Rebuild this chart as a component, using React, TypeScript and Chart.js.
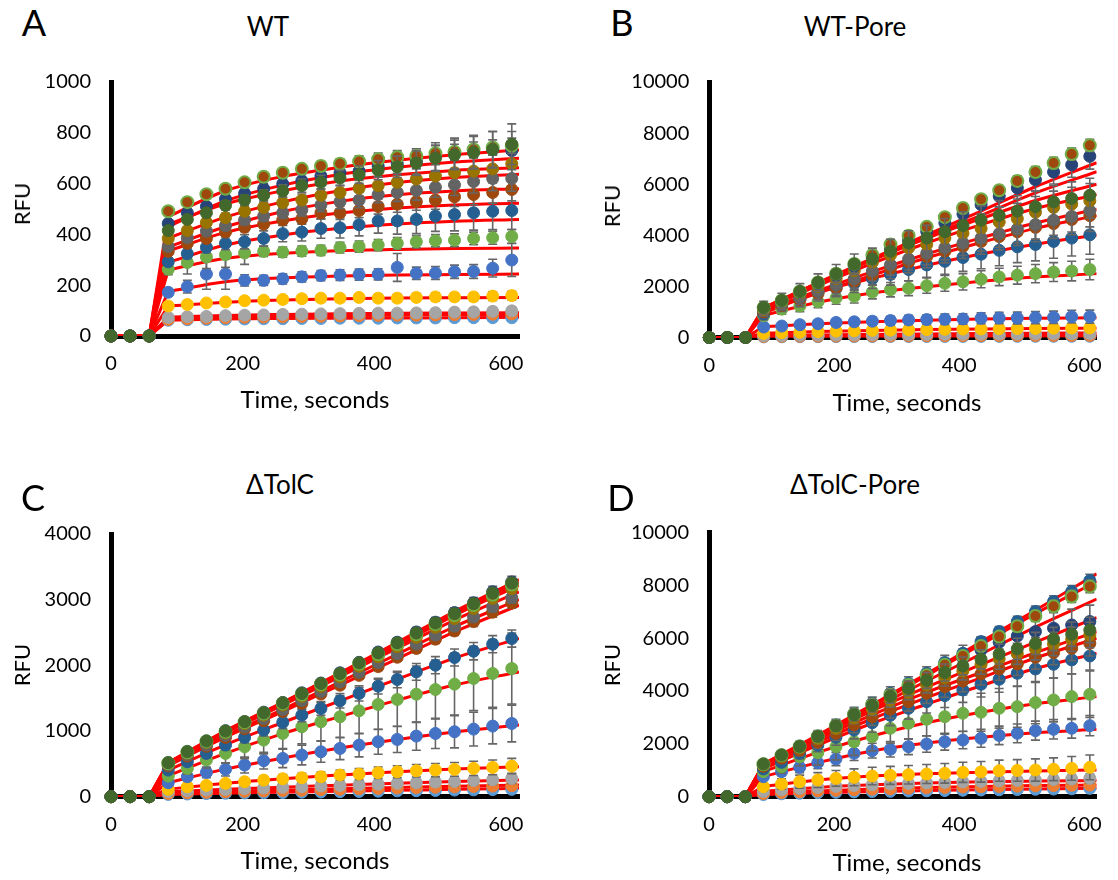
import React, { useEffect, useRef } from "react";
import { Chart, registerables } from "chart.js";
Chart.register(...registerables);

const FONT = "Lato, 'Open Sans', 'DejaVu Sans', sans-serif";

// ---------------- shared axes / times ----------------
const TIMES = [0, 29, 58, 87, 116, 145, 174, 203, 232, 261, 290, 319, 348, 377, 406, 435, 464, 493, 522, 551, 580, 609];
const BASELINE = [0, 0, 0];
const RAMP_TIMES = [0, 58];
const RAMP_BASE = [0, 0];
const FIT_TIMES = [87, 174, 261, 348, 435, 522, 620];
const X_TICKS = [0, 200, 400, 600];
const Y_TICKS_A = [0, 200, 400, 600, 800, 1000];
const Y_TICKS_B = [0, 2000, 4000, 6000, 8000, 10000];
const Y_TICKS_C = [0, 1000, 2000, 3000, 4000];
const Y_TICKS_D = [0, 2000, 4000, 6000, 8000, 10000];

const COLORS = ["#5B9BD5", "#ED7D31", "#A5A5A5", "#FFC000", "#4472C4", "#70AD47", "#255E91", "#9E480E", "#636363", "#997300", "#264478", "#43682B", "#9E480E"];
const COLORS_D = ["#5B9BD5", "#ED7D31", "#A5A5A5", "#FFC000", "#4472C4", "#70AD47", "#255E91", "#9E480E", "#264478", "#997300", "#255E91", "#43682B", "#9E480E"];
const EDGE_13 = "#70AD47";
const DRAW_RANK = [12, 11, 10, 9, 8, 7, 6, 5, 4, 3, 2, 0, 1];

// ---------------- Panel A (WT) ----------------
const A_MEANS = [
  [62, 64, 65, 66, 67, 68, 68, 69, 69, 70, 70, 70, 71, 71, 71, 72, 72, 72, 72],
  [65, 68, 70, 72, 74, 75, 76, 77, 78, 79, 80, 81, 82, 82, 83, 84, 85, 86, 87],
  [73, 76, 77, 80, 82, 83, 85, 86, 87, 88, 89, 90, 90, 91, 92, 94, 95, 97, 99],
  [118, 124, 130, 134, 139, 141, 144, 147, 149, 149, 152, 149, 149, 152, 154, 154, 154, 157, 159],
  [172, 194, 244, 244, 219, 219, 225, 233, 238, 240, 242, 243, 270, 247, 248, 253, 254, 267, 299],
  [263, 289, 311, 320, 327, 333, 330, 334, 337, 348, 352, 358, 365, 371, 375, 377, 384, 387, 392],
  [292, 324, 349, 365, 371, 384, 403, 409, 423, 426, 438, 453, 453, 459, 472, 478, 485, 491, 494],
  [333, 365, 384, 409, 428, 441, 457, 462, 485, 485, 494, 510, 519, 529, 535, 548, 557, 565, 577],
  [352, 387, 413, 434, 457, 472, 485, 497, 516, 529, 535, 557, 565, 573, 586, 595, 608, 620, 620],
  [384, 415, 447, 466, 491, 506, 525, 535, 554, 565, 582, 592, 605, 618, 630, 643, 649, 658, 678],
  [443, 485, 510, 539, 561, 580, 599, 611, 630, 643, 649, 668, 678, 687, 706, 719, 725, 734, 730],
  [415, 459, 485, 514, 535, 554, 571, 592, 605, 622, 635, 653, 666, 681, 700, 713, 722, 734, 755],
  [491, 527, 558, 580, 605, 627, 643, 658, 669, 678, 687, 696, 704, 709, 719, 725, 734, 742, 749],
];
const A_ERRS = [
  [5, 5, 5, 6, 6, 6, 6, 6, 7, 7, 7, 7, 7, 8, 8, 8, 8, 8, 8],
  [6, 6, 6, 7, 7, 7, 8, 8, 8, 8, 8, 9, 9, 9, 9, 10, 10, 10, 10],
  [8, 9, 9, 10, 10, 10, 11, 11, 12, 12, 12, 13, 13, 13, 14, 14, 15, 15, 15],
  [10, 10, 11, 12, 12, 12, 13, 13, 14, 14, 14, 15, 15, 15, 16, 16, 16, 17, 17],
  [15, 25, 60, 60, 22, 20, 20, 20, 20, 21, 22, 22, 55, 24, 25, 26, 27, 35, 65],
  [22, 45, 45, 50, 45, 20, 20, 20, 20, 21, 22, 22, 23, 24, 24, 25, 25, 26, 27],
  [15, 20, 22, 25, 28, 30, 32, 35, 38, 40, 44, 48, 52, 56, 60, 64, 68, 72, 75],
  [12, 14, 15, 16, 17, 18, 20, 22, 24, 26, 28, 30, 32, 34, 36, 38, 40, 42, 45],
  [12, 14, 15, 17, 18, 20, 22, 24, 26, 28, 30, 32, 35, 38, 40, 42, 45, 48, 50],
  [12, 14, 15, 17, 18, 20, 22, 24, 26, 28, 30, 33, 36, 40, 44, 48, 52, 55, 58],
  [10, 12, 14, 16, 18, 20, 22, 25, 28, 32, 35, 40, 45, 50, 55, 60, 65, 70, 75],
  [12, 14, 16, 18, 20, 22, 24, 26, 28, 30, 34, 38, 42, 48, 52, 58, 64, 72, 80],
  [10, 10, 12, 12, 14, 14, 15, 16, 18, 20, 22, 24, 26, 28, 30, 30, 30, 30, 30],
];
const A_FITS = [
  [62, 67, 69, 70, 71, 72, 74],
  [66, 73, 77, 80, 82, 84, 85],
  [74, 81, 85, 88, 90, 91, 92],
  [118, 133, 142, 147, 150, 151, 152],
  [175, 214, 229, 236, 240, 242, 244],
  [260, 306, 326, 336, 341, 344, 346],
  [290, 358, 398, 424, 441, 452, 459],
  [335, 408, 453, 484, 504, 516, 523],
  [350, 430, 490, 530, 556, 571, 580],
  [385, 468, 528, 572, 604, 624, 637],
  [440, 520, 572, 610, 635, 652, 662],
  [430, 532, 594, 636, 664, 685, 700],
  [470, 572, 628, 664, 692, 714, 732],
];

// ---------------- Panel B (WT-Pore) ----------------
const B_MEANS = [
  [25, 28, 30, 32, 34, 35, 36, 38, 39, 40, 41, 42, 43, 44, 45, 46, 47, 48, 50],
  [40, 45, 50, 52, 55, 58, 60, 62, 64, 66, 68, 70, 72, 74, 75, 77, 78, 80, 82],
  [70, 80, 90, 95, 100, 105, 110, 115, 118, 122, 125, 128, 132, 135, 138, 142, 145, 148, 150],
  [160, 190, 210, 230, 250, 265, 280, 290, 300, 310, 320, 330, 335, 345, 350, 355, 365, 370, 375],
  [411, 449, 500, 538, 588, 614, 639, 664, 689, 702, 715, 727, 753, 765, 765, 778, 791, 816, 816],
  [850, 1110, 1230, 1400, 1550, 1610, 1780, 1870, 1930, 2030, 2120, 2180, 2280, 2370, 2440, 2500, 2560, 2600, 2660],
  [920, 1300, 1490, 1800, 1930, 2120, 2310, 2470, 2660, 2840, 2980, 3130, 3260, 3410, 3550, 3640, 3760, 3890, 4020],
  [1000, 1250, 1480, 1720, 1950, 2200, 2450, 2700, 2950, 3170, 3380, 3570, 3760, 3950, 4140, 4310, 4460, 4620, 4770],
  [1050, 1300, 1560, 1800, 2050, 2300, 2600, 2850, 3070, 3300, 3510, 3700, 3890, 4060, 4250, 4420, 4590, 4740, 4960],
  [1100, 1380, 1700, 2000, 2300, 2620, 2950, 3230, 3510, 3640, 3890, 4080, 4270, 4520, 4650, 4900, 5090, 5220, 5350],
  [1160, 1430, 1770, 2110, 2440, 2800, 3140, 3500, 3820, 4150, 4480, 4830, 5200, 5530, 5850, 6170, 6480, 6760, 7090],
  [1170, 1450, 1800, 2150, 2490, 2870, 3070, 3380, 3700, 3890, 4140, 4380, 4590, 4780, 4950, 5120, 5310, 5440, 5570],
  [1170, 1450, 1800, 2150, 2500, 2880, 3230, 3640, 3980, 4330, 4710, 5070, 5410, 5760, 6130, 6480, 6830, 7180, 7520],
];
const B_ERRS = [
  [8, 9, 9, 10, 10, 10, 11, 11, 11, 12, 12, 12, 12, 13, 13, 13, 14, 14, 14],
  [12, 13, 14, 14, 15, 15, 16, 16, 17, 17, 18, 18, 18, 19, 19, 20, 20, 20, 21],
  [25, 27, 28, 30, 31, 32, 33, 34, 35, 36, 37, 38, 39, 40, 41, 42, 43, 44, 45],
  [45, 50, 55, 58, 60, 63, 65, 67, 70, 72, 74, 76, 78, 80, 82, 84, 86, 88, 90],
  [100, 110, 120, 130, 140, 150, 160, 170, 180, 190, 200, 205, 210, 220, 230, 235, 240, 250, 255],
  [180, 200, 220, 235, 250, 260, 270, 280, 290, 300, 310, 320, 330, 340, 350, 360, 370, 385, 400],
  [220, 250, 280, 300, 330, 360, 390, 420, 450, 480, 510, 540, 570, 600, 620, 640, 660, 700, 760],
  [200, 230, 260, 290, 320, 350, 380, 400, 420, 440, 460, 480, 500, 520, 540, 560, 580, 600, 620],
  [210, 240, 270, 300, 330, 360, 390, 410, 430, 450, 470, 490, 510, 530, 550, 570, 590, 610, 630],
  [220, 250, 280, 310, 340, 370, 400, 430, 460, 490, 520, 540, 560, 580, 600, 620, 640, 660, 680],
  [150, 170, 190, 210, 230, 250, 270, 290, 310, 330, 350, 370, 390, 410, 430, 450, 470, 490, 500],
  [250, 280, 310, 340, 370, 400, 430, 460, 480, 500, 520, 540, 560, 580, 600, 620, 640, 650, 660],
  [60, 70, 80, 90, 100, 110, 120, 130, 140, 150, 160, 170, 180, 190, 200, 210, 220, 230, 240],
];
const B_FITS = [
  [25, 31, 36, 40, 44, 47, 50],
  [40, 52, 62, 72, 80, 86, 90],
  [75, 100, 120, 140, 155, 167, 175],
  [170, 230, 275, 310, 335, 352, 365],
  [420, 540, 620, 680, 720, 750, 770],
  [870, 1380, 1740, 1990, 2200, 2370, 2500],
  [950, 1780, 2320, 2830, 3270, 3650, 4010],
  [1000, 1740, 2440, 3120, 3720, 4270, 4770],
  [1050, 1830, 2580, 3270, 3900, 4480, 5020],
  [1100, 2030, 2900, 3700, 4420, 5050, 5600],
  [1150, 2130, 3060, 3940, 4780, 5660, 6490],
  [1160, 2130, 3030, 3880, 4650, 5360, 6000],
  [1160, 2150, 3100, 4020, 4950, 5900, 6840],
];

// ---------------- Panel C (ΔTolC) ----------------
const C_MEANS = [
  [35, 41, 47, 52, 57, 60, 64, 69, 72, 77, 80, 84, 89, 92, 96, 101, 104, 108, 112],
  [50, 60, 68, 75, 82, 88, 95, 100, 108, 114, 120, 126, 132, 138, 144, 150, 156, 162, 167],
  [76, 89, 101, 111, 123, 131, 143, 152, 163, 171, 183, 191, 203, 211, 224, 232, 246, 259, 279],
  [112, 152, 172, 203, 228, 253, 274, 289, 304, 330, 345, 365, 380, 395, 406, 416, 431, 446, 466],
  [213, 304, 370, 416, 482, 548, 583, 634, 684, 735, 786, 837, 872, 923, 963, 989, 1029, 1075, 1115],
  [314, 431, 558, 659, 760, 862, 963, 1065, 1141, 1217, 1308, 1404, 1480, 1561, 1632, 1714, 1800, 1876, 1952],
  [405, 532, 659, 786, 902, 1014, 1131, 1242, 1343, 1460, 1572, 1683, 1785, 1901, 2003, 2119, 2215, 2322, 2408],
  [468, 618, 768, 903, 1036, 1157, 1298, 1421, 1563, 1698, 1848, 1982, 2124, 2258, 2399, 2524, 2666, 2809, 2950],
  [481, 639, 787, 932, 1060, 1192, 1329, 1466, 1603, 1749, 1895, 2041, 2178, 2324, 2461, 2598, 2735, 2891, 3030],
  [504, 664, 827, 971, 1113, 1243, 1395, 1529, 1681, 1825, 1987, 2131, 2283, 2427, 2579, 2714, 2866, 3020, 3170],
  [520, 690, 850, 1006, 1145, 1287, 1435, 1582, 1731, 1887, 2046, 2203, 2352, 2508, 2657, 2804, 2953, 3120, 3270],
  [517, 684, 847, 999, 1141, 1278, 1430, 1572, 1724, 1876, 2038, 2190, 2342, 2494, 2646, 2788, 2940, 3103, 3255],
  [510, 677, 842, 989, 1134, 1266, 1421, 1557, 1712, 1859, 2024, 2170, 2325, 2472, 2627, 2764, 2918, 3076, 3230],
];
const C_ERRS = [
  [10, 12, 13, 14, 15, 16, 17, 18, 19, 20, 21, 22, 23, 24, 25, 26, 27, 28, 30],
  [14, 16, 18, 20, 21, 22, 24, 25, 26, 28, 29, 30, 32, 33, 34, 36, 37, 38, 40],
  [20, 24, 28, 31, 34, 37, 40, 43, 46, 49, 52, 55, 58, 61, 64, 67, 70, 73, 76],
  [25, 32, 38, 44, 50, 56, 62, 67, 72, 77, 82, 87, 92, 96, 100, 104, 108, 112, 117],
  [40, 60, 80, 100, 120, 127, 140, 150, 160, 170, 180, 190, 200, 215, 230, 245, 258, 270, 280],
  [60, 90, 120, 150, 180, 210, 228, 260, 290, 320, 350, 380, 410, 430, 450, 470, 490, 515, 540],
  [40, 50, 60, 70, 80, 90, 95, 100, 105, 110, 115, 120, 125, 128, 130, 130, 132, 130, 130],
  [25, 28, 31, 34, 37, 40, 43, 46, 49, 52, 55, 58, 61, 64, 67, 70, 73, 76, 80],
  [25, 27, 30, 33, 36, 40, 42, 45, 48, 51, 54, 57, 60, 63, 66, 69, 72, 75, 78],
  [22, 25, 28, 31, 34, 37, 40, 43, 46, 49, 52, 55, 58, 61, 64, 67, 70, 73, 76],
  [20, 24, 27, 30, 33, 36, 40, 44, 47, 50, 54, 58, 62, 66, 70, 74, 78, 82, 86],
  [20, 23, 26, 29, 32, 35, 38, 41, 44, 47, 50, 53, 56, 59, 62, 65, 68, 71, 74],
  [18, 20, 22, 24, 26, 28, 30, 32, 34, 36, 38, 40, 42, 44, 46, 48, 50, 52, 54],
];
const C_FITS = [
  [35, 54, 68, 83, 97, 112, 127],
  [50, 78, 100, 120, 140, 160, 177],
  [76, 112, 145, 175, 205, 232, 253],
  [115, 205, 275, 330, 380, 420, 456],
  [215, 420, 590, 740, 870, 985, 1090],
  [320, 660, 960, 1220, 1470, 1700, 1901],
  [405, 790, 1130, 1460, 1790, 2110, 2408],
  [468, 905, 1296, 1700, 2100, 2510, 2915],
  [481, 930, 1331, 1747, 2170, 2590, 3000],
  [504, 973, 1393, 1827, 2260, 2690, 3118],
  [520, 1004, 1437, 1885, 2350, 2820, 3305],
  [517, 999, 1430, 1876, 2320, 2790, 3260],
  [513, 991, 1419, 1861, 2300, 2760, 3219],
];

// ---------------- Panel D (ΔTolC-Pore) ----------------
const D_MEANS = [
  [80, 110, 130, 150, 165, 180, 195, 205, 215, 225, 235, 245, 255, 262, 270, 280, 290, 300, 316],
  [120, 160, 190, 220, 245, 265, 285, 300, 320, 335, 350, 365, 380, 390, 400, 412, 420, 432, 442],
  [200, 260, 310, 350, 390, 420, 450, 480, 500, 520, 540, 560, 580, 600, 615, 630, 650, 670, 694],
  [379, 480, 568, 631, 694, 732, 783, 808, 833, 859, 884, 922, 940, 985, 995, 1010, 1040, 1073, 1111],
  [758, 947, 1111, 1288, 1427, 1641, 1742, 1793, 1894, 1995, 2083, 2146, 2210, 2320, 2399, 2500, 2551, 2588, 2689],
  [947, 1136, 1515, 1667, 1894, 2083, 2273, 2588, 2778, 2929, 3030, 3157, 3195, 3346, 3409, 3561, 3662, 3788, 3876],
  [1050, 1300, 1640, 1950, 2250, 2520, 2800, 3080, 3346, 3598, 3826, 4040, 4255, 4444, 4672, 4836, 5013, 5177, 5328],
  [1150, 1460, 1760, 2070, 2400, 2720, 3020, 3310, 3598, 3914, 4167, 4381, 4646, 4836, 5025, 5278, 5455, 5619, 5808],
  [1210, 1550, 1890, 2260, 2660, 3080, 3440, 3800, 4150, 4500, 4900, 5250, 5550, 5850, 6080, 6250, 6380, 6500, 6630],
  [1200, 1530, 1850, 2200, 2580, 2980, 3320, 3650, 3950, 4230, 4510, 4760, 5000, 5210, 5410, 5600, 5780, 5960, 6124],
  [1237, 1578, 1919, 2298, 2715, 3157, 3535, 3914, 4293, 4672, 5076, 5429, 5871, 6250, 6629, 7008, 7386, 7765, 8182],
  [1237, 1578, 1900, 2280, 2680, 3100, 3450, 3800, 4100, 4400, 4700, 4950, 5200, 5400, 5600, 5800, 5970, 6150, 6313],
  [1230, 1570, 1900, 2280, 2690, 3120, 3490, 3860, 4230, 4600, 4990, 5330, 5700, 6060, 6450, 6840, 7210, 7580, 7960],
];
const D_ERRS = [
  [20, 24, 27, 30, 32, 34, 36, 38, 40, 42, 44, 46, 48, 50, 52, 54, 56, 58, 60],
  [30, 35, 40, 44, 48, 52, 55, 58, 61, 64, 67, 70, 72, 74, 76, 78, 80, 82, 85],
  [60, 70, 80, 90, 100, 105, 110, 115, 120, 125, 130, 135, 140, 145, 150, 155, 160, 165, 170],
  [150, 200, 250, 280, 300, 320, 330, 340, 350, 360, 370, 380, 390, 400, 410, 420, 430, 450, 470],
  [100, 150, 200, 230, 250, 270, 280, 290, 300, 310, 320, 330, 340, 350, 355, 360, 365, 370, 380],
  [150, 250, 350, 470, 500, 520, 540, 560, 600, 630, 660, 690, 720, 750, 780, 800, 830, 860, 880],
  [100, 150, 200, 250, 300, 330, 360, 390, 410, 430, 450, 470, 480, 490, 500, 510, 520, 525, 530],
  [150, 180, 210, 240, 270, 300, 320, 340, 360, 380, 400, 410, 420, 430, 440, 450, 460, 470, 480],
  [150, 180, 210, 240, 270, 300, 330, 360, 390, 420, 450, 480, 500, 520, 540, 560, 580, 600, 620],
  [120, 140, 160, 180, 200, 220, 240, 260, 280, 300, 320, 340, 360, 380, 400, 420, 440, 460, 480],
  [60, 70, 80, 90, 100, 110, 120, 130, 140, 150, 160, 170, 180, 190, 200, 210, 220, 230, 240],
  [120, 140, 160, 180, 200, 220, 240, 260, 280, 300, 320, 340, 360, 380, 400, 420, 440, 460, 480],
  [60, 70, 80, 90, 100, 110, 120, 130, 140, 150, 160, 170, 180, 190, 200, 210, 220, 230, 240],
];
const D_FITS = [
  [80, 150, 195, 230, 265, 290, 316],
  [120, 220, 290, 345, 390, 420, 442],
  [200, 350, 450, 520, 565, 590, 610],
  [380, 630, 780, 870, 930, 975, 1010],
  [760, 1290, 1730, 2030, 2250, 2420, 2551],
  [950, 1680, 2300, 2800, 3200, 3520, 3788],
  [1050, 1950, 2780, 3500, 4200, 4850, 5429],
  [1150, 2070, 2950, 3750, 4500, 5250, 5997],
  [1220, 2270, 3330, 4380, 5400, 6420, 7480],
  [1200, 2180, 3100, 3950, 4700, 5450, 6250],
  [1240, 2330, 3480, 4650, 5860, 7060, 8434],
  [1230, 2250, 3250, 4150, 5000, 5850, 6780],
  [1230, 2300, 3430, 4580, 5760, 6930, 8144],
];

// ---------------- layout ----------------
type Geom = { left: number; top: number; width: number; height: number; plotLeft: number; plotTop: number; plotRight: number; plotBottom: number };
type PanelSpec = { key: string; means: number[][]; errs: number[][]; fits: number[][]; yMax: number; yTicks: number[]; colors: string[]; geom: Geom };

const PANELS: PanelSpec[] = [
  { key: "A", means: A_MEANS, errs: A_ERRS, fits: A_FITS, yMax: 1000, yTicks: Y_TICKS_A, colors: COLORS,
    geom: { left: 0, top: 50, width: 560, height: 380, plotLeft: 111, plotTop: 72.7, plotRight: 519, plotBottom: 336 } },
  { key: "B", means: B_MEANS, errs: B_ERRS, fits: B_FITS, yMax: 10000, yTicks: Y_TICKS_B, colors: COLORS,
    geom: { left: 598, top: 50, width: 520, height: 380, plotLeft: 709.3, plotTop: 74, plotRight: 1105.5, plotBottom: 337.5 } },
  { key: "C", means: C_MEANS, errs: C_ERRS, fits: C_FITS, yMax: 4000, yTicks: Y_TICKS_C, colors: COLORS,
    geom: { left: 0, top: 500, width: 560, height: 380, plotLeft: 111, plotTop: 534, plotRight: 519, plotBottom: 796.7 } },
  { key: "D", means: D_MEANS, errs: D_ERRS, fits: D_FITS, yMax: 10000, yTicks: Y_TICKS_D, colors: COLORS_D,
    geom: { left: 598, top: 500, width: 520, height: 380, plotLeft: 709, plotTop: 532.5, plotRight: 1105.5, plotBottom: 796.7 } },
];

const LABELS = [
  { text: "A", x: 34, y: 22, size: 36 },
  { text: "WT", x: 268, y: 26, size: 26 },
  { text: "B", x: 622, y: 22, size: 36 },
  { text: "WT-Pore", x: 855, y: 26, size: 26 },
  { text: "C", x: 33, y: 497, size: 36 },
  { text: "ΔTolC", x: 280, y: 484, size: 26 },
  { text: "D", x: 621, y: 497, size: 36 },
  { text: "ΔTolC-Pore", x: 855, y: 484, size: 26 },
  { text: "Time, seconds", x: 315, y: 399, size: 24 },
  { text: "Time, seconds", x: 907, y: 402, size: 24 },
  { text: "Time, seconds", x: 315, y: 860, size: 24 },
  { text: "Time, seconds", x: 907, y: 862, size: 24 },
  { text: "RFU", x: 22, y: 204, size: 22, rotate: true },
  { text: "RFU", x: 612, y: 206, size: 22, rotate: true },
  { text: "RFU", x: 22, y: 665, size: 22, rotate: true },
  { text: "RFU", x: 612, y: 665, size: 22, rotate: true },
];

const errorBars = {
  id: "errorBars",
  beforeDatasetDraw(chart: any, args: any) {
    const ds = chart.data.datasets[args.index];
    if (!ds.withErrors) return;
    const yScale = chart.scales.y;
    const ctx = chart.ctx;
    ctx.save();
    ctx.strokeStyle = "#666666";
    ctx.lineWidth = 1.6;
    args.meta.data.forEach((el: any, j: number) => {
      const p = ds.data[j];
      if (!p || !p.e) return;
      const x = el.x;
      const yt = yScale.getPixelForValue(p.y + p.e);
      const yb = yScale.getPixelForValue(p.y - p.e);
      ctx.beginPath();
      ctx.moveTo(x, yt);
      ctx.lineTo(x, yb);
      ctx.moveTo(x - 4.5, yt);
      ctx.lineTo(x + 4.5, yt);
      ctx.moveTo(x - 4.5, yb);
      ctx.lineTo(x + 4.5, yb);
      ctx.stroke();
    });
    ctx.restore();
  },
};

function Panel({ p }: { p: PanelSpec }) {
  const ref = useRef<HTMLCanvasElement>(null);
  const g = p.geom;
  useEffect(() => {
    const yw = g.plotLeft - g.left;
    const pt = g.plotTop - g.top;
    const pr = g.left + g.width - g.plotRight;
    const xh = g.top + g.height - g.plotBottom;
    const datasets: any[] = [];
    p.means.forEach((vals, k) => {
      const pts: any[] = [];
      if (k !== 12) BASELINE.forEach((v, i) => pts.push({ x: TIMES[i], y: v, e: 0 }));
      vals.forEach((v, j) => pts.push({ x: TIMES[j + BASELINE.length], y: v, e: p.errs[k][j] }));
      datasets.push({
        data: pts, showLine: false, withErrors: true,
        pointRadius: 6, pointHoverRadius: 6,
        pointBackgroundColor: p.colors[k],
        pointBorderColor: k === 12 ? EDGE_13 : p.colors[k],
        pointBorderWidth: k === 12 ? 2 : 1,
        borderColor: p.colors[k], backgroundColor: p.colors[k],
        order: DRAW_RANK[k], clip: false,
      });
      // straight ramp: baseline then jump to first fitted value
      const ramp = [...RAMP_BASE.map((v, i) => ({ x: RAMP_TIMES[i], y: v })), { x: FIT_TIMES[0], y: p.fits[k][0] }];
      datasets.push({
        data: ramp, borderColor: "#FF0000", borderWidth: 3, pointRadius: 0, pointHoverRadius: 0,
        tension: 0, fill: false, order: 100,
      });
      // smooth fitted curve
      const fit = p.fits[k].map((v, i) => ({ x: FIT_TIMES[i], y: v }));
      datasets.push({
        data: fit, borderColor: "#FF0000", borderWidth: 3, pointRadius: 0, pointHoverRadius: 0,
        cubicInterpolationMode: "monotone", fill: false, order: 100,
      });
    });
    const tickFont = { family: FONT, size: 20 };
    const chart = new Chart(ref.current as HTMLCanvasElement, {
      type: "line",
      data: { datasets },
      options: {
        responsive: false,
        animation: false,
        events: [],
        layout: { padding: { left: 0, top: pt, right: pr, bottom: 0 } },
        plugins: { legend: { display: false }, tooltip: { enabled: false }, title: { display: false } },
        scales: {
          x: {
            type: "linear", min: 0, max: 620,
            afterBuildTicks: (s: any) => { s.ticks = X_TICKS.map((v) => ({ value: v })); },
            afterFit: (s: any) => { s.height = xh; },
            grid: { display: false, drawTicks: false },
            border: { display: true, color: "#000", width: 5 },
            ticks: { font: tickFont, color: "#000", padding: 16, maxRotation: 0, autoSkip: false, callback: (v: any) => String(v) },
          },
          y: {
            type: "linear", min: 0, max: p.yMax,
            afterBuildTicks: (s: any) => { s.ticks = p.yTicks.map((v) => ({ value: v })); },
            afterFit: (s: any) => { s.width = yw; },
            grid: { display: false, drawTicks: false },
            border: { display: true, color: "#000", width: 5 },
            ticks: { font: tickFont, color: "#000", padding: 20, autoSkip: false, callback: (v: any) => String(v) },
          },
        },
      } as any,
      plugins: [errorBars as any],
    });
    return () => chart.destroy();
  }, []);
  return (
    <canvas ref={ref} width={g.width} height={g.height}
      style={{ position: "absolute", left: g.left, top: g.top, width: g.width, height: g.height }} />
  );
}

export default function App() {
  return (
    <div style={{ position: "absolute", left: 0, top: 0, width: 1118, height: 880, background: "#fff", overflow: "hidden", fontFamily: FONT }}>
      {PANELS.map((p) => <Panel key={p.key} p={p} />)}
      {LABELS.map((l, i) => (
        <div key={i} style={{
          position: "absolute", left: l.x, top: l.y, fontSize: l.size, lineHeight: 1, color: "#000",
          whiteSpace: "nowrap", fontFamily: FONT,
          transform: `translate(-50%, -50%)${l.rotate ? " rotate(-90deg)" : ""}`,
        }}>{l.text}</div>
      ))}
    </div>
  );
}
